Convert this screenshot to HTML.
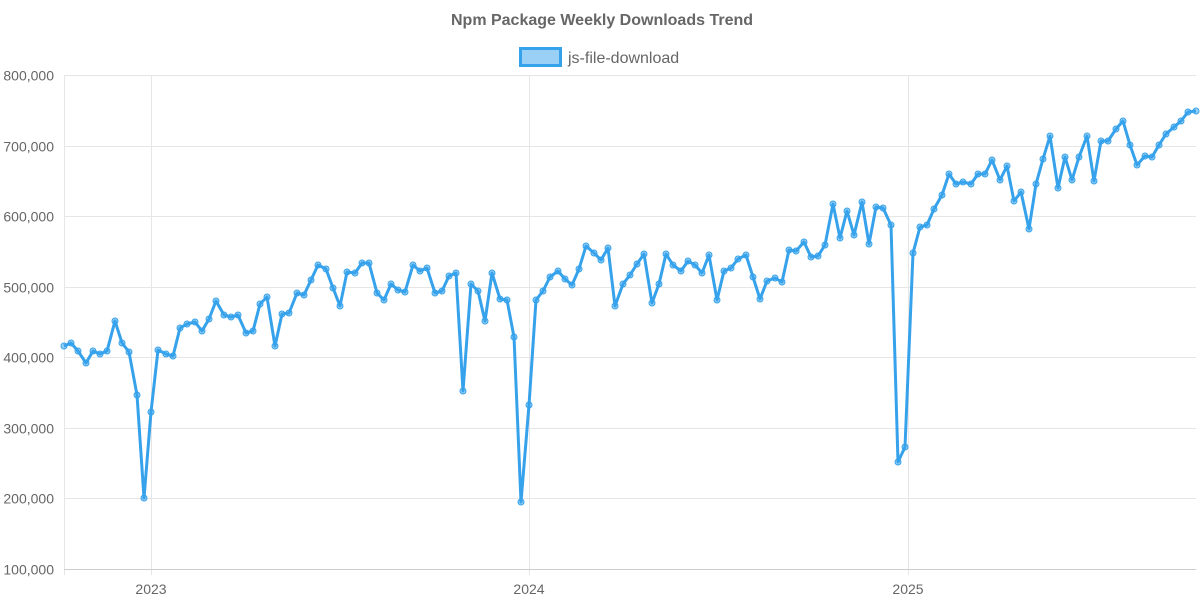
<!DOCTYPE html>
<html><head><meta charset="utf-8"><style>
html,body{margin:0;padding:0;background:#fff;}
svg{display:block;font-family:"Liberation Sans",sans-serif;}
</style></head><body>
<svg id="c" width="1200" height="600" xmlns="http://www.w3.org/2000/svg">
<text x="602" y="25" text-anchor="middle" font-size="16" font-weight="bold" fill="#666">Npm Package Weekly Downloads Trend</text>
<rect x="520.5" y="48.5" width="40" height="17" fill="rgba(54,162,235,0.5)" stroke="#36a2eb" stroke-width="3"/>
<text x="568" y="63" font-size="16" fill="#666">js-file-download</text>
<g id="grid" stroke="#e6e6e6" stroke-width="1"></g>
<g id="lab" font-size="14" fill="#666"></g>
<g id="ser"></g>
</svg>
<script>
var g=document.getElementById('grid'),l=document.getElementById('lab'),s=document.getElementById('ser');
var ns='http://www.w3.org/2000/svg';
function el(p,t,a,txt){var e=document.createElementNS(ns,t);for(var k in a)e.setAttribute(k,a[k]);if(txt)e.textContent=txt;p.appendChild(e);return e;}
var labs=['800,000','700,000','600,000','500,000','400,000','300,000','200,000','100,000'];
for(var i=0;i<8;i++){var y=75+i*494/7;y=Math.round(y)+0.5;
el(g,'line',{x1:64,x2:1196,y1:y,y2:y});
el(l,'text',{x:54,y:y+5,'text-anchor':'end'},labs[i]);}
el(g,'line',{x1:64.5,x2:64.5,y1:75,y2:575});
[[151,'2023'],[529,'2024'],[908,'2025']].forEach(function(a){el(g,'line',{x1:a[0]+.5,x2:a[0]+.5,y1:75,y2:575});el(l,'text',{x:a[0],y:594,'text-anchor':'middle'},a[1]);});
el(g,'line',{x1:64,x2:1196,y1:569.5,y2:569.5,stroke:'#ccc'});
var d="64:346,71:343,78:351,86:363,93:351,100:354,107:351,115:321,122:343,129:352,137:395,144:498,151:412,158:350,166:354,173:356,180:328,187:324,195:322,202:331,209:319,216:301,224:315,231:317,238:315,246:333,253:331,260:304,267:297,275:346,282:314,289:313,297:293,304:295,311:280,318:265,326:269,333:288,340:306,347:272,355:273,362:263,369:263,377:293,384:300,391:284,398:290,405:292,413:265,420:271,427:268,435:293,442:291,449:276,456:273,463:391,471:284,478:291,485:321,492:273,500:299,507:300,514:337,521:502,529:405,536:300,543:291,550:277,558:271,565:279,572:285,579:269,586:246,594:253,601:260,608:248,615:306,623:284,630:275,637:264,644:254,652:303,659:284,666:254,673:265,681:271,688:261,695:265,702:273,709:255,717:300,724:271,731:268,738:259,746:255,753:277,760:299,767:281,775:278,782:282,789:250,796:251,804:242,811:257,818:256,825:245,833:204,840:238,847:211,854:235,862:202,869:244,876:207,883:208,891:225,898:462,905:447,913:253,920:227,927:225,934:209,942:195,949:174,956:184,963:182,971:184,978:174,985:174,992:160,1000:180,1007:166,1014:201,1021:192,1029:229,1036:184,1043:159,1050:136,1058:188,1065:157,1072:180,1079:157,1087:136,1094:181,1101:141,1108:141,1116:129,1123:121,1130:145,1137:165,1145:156,1152:157,1159:145,1166:134,1174:127,1181:121,1188:112,1196:111";
var pts=d.split(',').map(function(p){return p.split(':').map(Number);});
el(s,'polyline',{points:pts.map(function(p){return p.join(',');}).join(' '),fill:'none',stroke:'#36a2eb','stroke-width':3,'stroke-linejoin':'round'});
pts.forEach(function(p){el(s,'circle',{cx:p[0],cy:p[1],r:3,fill:'rgba(54,162,235,0.5)',stroke:'#36a2eb','stroke-width':1});});
</script>
</body></html>
